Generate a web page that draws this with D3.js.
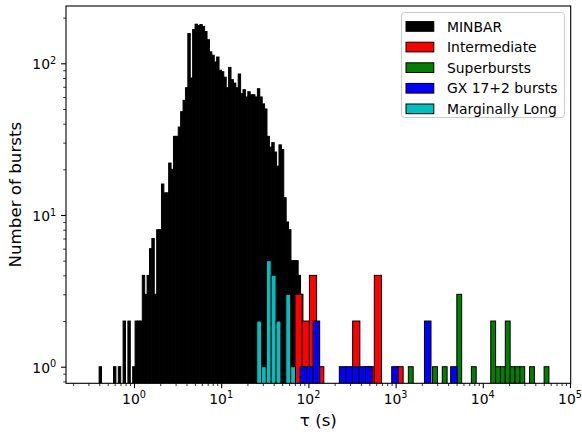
<!DOCTYPE html>
<html>
<head>
<meta charset="utf-8">
<script src="https://cdn.jsdelivr.net/npm/d3@7"></script>
<style>
  body { margin: 0; background: #fff; }
  svg { display: block; }
  text { font-family: "DejaVu Sans", sans-serif; fill: #000; }
</style>
</head>
<body>
<svg width="582" height="435"></svg>
<script>
  // histogram bins: log10 of first lower edge, bin width (dex), counts per bin
  const minbarStart = -0.40, minbarStep = 0.0275;
  const minbarCounts = [1, 0, 0, 0, 0, 0, 1, 0, 1, 0, 2, 0, 2, 0, 1, 2, 2, 2, 4, 3,
    4, 6, 7, 3, 8, 8, 16, 14, 14, 22, 20, 33, 33, 38, 48, 57, 69, 157, 80, 167,
    181, 177, 180, 175, 162, 143, 119, 113, 102, 110, 90, 88, 81, 69, 94, 78, 74, 69, 85, 63,
    67, 60, 65, 62, 62, 60, 68, 60, 54, 50, 33, 28, 30, 26, 21, 29, 27, 13, 9, 8,
    5, 5, 5, 4, 3];

  const interStart = 1.846, interStep = 0.0827;
  const interCounts = [3, 2, 4, 1, 0, 0, 0, 0, 2, 0, 1, 4, 0, 0, 1];

  const superStart = 3.146, superStep = 0.0556;
  const superCounts = [1, 0, 0, 0, 0, 1, 0, 1, 0, 0, 3, 0, 0, 1, 0, 0, 0, 2, 1, 1,
    2, 1, 1, 1, 0, 1, 0, 0, 1];

  const gxStart = 1.904, gxStep = 0.0751;
  const gxCounts = [1, 1, 2, 0, 0, 0, 1, 1, 1, 1, 1, 0, 0, 0, 1, 0, 0, 0, 0, 2,
    0, 0, 0, 1];

  const mlStart = 1.407, mlStep = 0.0556;
  const mlCounts = [2, 1, 5, 4, 2, 0, 3, 1];

  const seriesNames = ['MINBAR', 'Intermediate', 'Superbursts', 'GX 17+2 bursts', 'Marginally Long'];
  const seriesColors = ['#000000', '#ff0000', '#008000', '#0000ff', '#00bfbf'];

  const xMajor = [1, 10, 100, 1000, 10000, 100000];
  const xMajorExp = ['0', '1', '2', '3', '4', '5'];
  const yMajor = [1, 10, 100];
  const yMajorExp = ['0', '1', '2'];

  const svg = d3.select('svg');

  const plot = { left: 66, right: 570.7, top: 6, bottom: 383.3 };

  const xScale = d3.scaleLog()
    .domain([Math.pow(10, -0.7798), Math.pow(10, 5.008)])
    .range([plot.left, plot.right]);

  const yScale = d3.scaleLog()
    .domain([Math.pow(10, -0.1094), Math.pow(10, 2.3777)])
    .range([plot.bottom, plot.top]);

  svg.append('defs').append('clipPath').attr('id', 'clip')
    .append('rect')
    .attr('x', plot.left).attr('y', plot.top)
    .attr('width', plot.right - plot.left)
    .attr('height', plot.bottom - plot.top);

  const bins = (start, step, counts) => counts
    .map((c, i) => ({
      x0: Math.pow(10, start + i * step),
      x1: Math.pow(10, start + (i + 1) * step),
      c
    }))
    .filter(d => d.c > 0);

  const allSeries = [
    bins(minbarStart, minbarStep, minbarCounts),
    bins(interStart, interStep, interCounts),
    bins(superStart, superStep, superCounts),
    bins(gxStart, gxStep, gxCounts),
    bins(mlStart, mlStep, mlCounts)
  ];

  const barsG = svg.append('g').attr('clip-path', 'url(#clip)');

  allSeries.forEach((data, k) => {
    barsG.append('g')
      .selectAll('rect').data(data)
      .enter().append('rect')
      .attr('x', d => xScale(d.x0))
      .attr('width', d => xScale(d.x1) - xScale(d.x0))
      .attr('y', d => yScale(d.c))
      .attr('height', d => plot.bottom + 5 - yScale(d.c))
      .attr('fill', seriesColors[k])
      .attr('stroke', '#000')
      .attr('stroke-width', 1);
  });

  // minor tick values
  const xMinor = [];
  for (let e = -1; e <= 4; e++) {
    for (let j = 2; j <= 9; j++) {
      const v = j * Math.pow(10, e);
      if (v > xScale.domain()[0] && v < xScale.domain()[1]) xMinor.push(v);
    }
  }
  const yMinor = [];
  for (let e = -1; e <= 2; e++) {
    for (let j = 2; j <= 9; j++) {
      const v = j * Math.pow(10, e);
      if (v > yScale.domain()[0] && v < yScale.domain()[1]) yMinor.push(v);
    }
  }

  const styleAxis = (g, w) => {
    g.selectAll('.domain').remove();
    g.selectAll('.tick line').attr('stroke', '#000').attr('stroke-width', w);
  };

  svg.append('g')
    .attr('transform', `translate(0,${plot.bottom})`)
    .call(d3.axisBottom(xScale).tickValues(xMinor).tickSize(2.8).tickFormat(''))
    .call(g => styleAxis(g, 0.8));
  svg.append('g')
    .attr('transform', `translate(0,${plot.bottom})`)
    .call(d3.axisBottom(xScale).tickValues(xMajor).tickSize(4.9).tickFormat(''))
    .call(g => styleAxis(g, 1.1));

  svg.append('g')
    .attr('transform', `translate(${plot.left},0)`)
    .call(d3.axisLeft(yScale).tickValues(yMinor).tickSize(2.8).tickFormat(''))
    .call(g => styleAxis(g, 0.8));
  svg.append('g')
    .attr('transform', `translate(${plot.left},0)`)
    .call(d3.axisLeft(yScale).tickValues(yMajor).tickSize(4.9).tickFormat(''))
    .call(g => styleAxis(g, 1.1));

  // frame
  svg.append('rect')
    .attr('x', plot.left).attr('y', plot.top)
    .attr('width', plot.right - plot.left)
    .attr('height', plot.bottom - plot.top)
    .attr('fill', 'none')
    .attr('stroke', '#000')
    .attr('stroke-width', 1.1);

  // tick labels as 10^n
  const xl = svg.append('g').selectAll('text').data(xMajor)
    .enter().append('text')
    .attr('x', d => xScale(d))
    .attr('y', plot.bottom + 20.5)
    .attr('text-anchor', 'middle')
    .style('font-size', '13.9px');
  xl.append('tspan').text('10');
  xl.append('tspan').attr('dy', -5.5).style('font-size', '9.7px').text((d, i) => xMajorExp[i]);

  const yl = svg.append('g').selectAll('text').data(yMajor)
    .enter().append('text')
    .attr('x', plot.left - 9.8)
    .attr('y', d => yScale(d) + 6)
    .attr('text-anchor', 'end')
    .style('font-size', '13.9px');
  yl.append('tspan').text('10');
  yl.append('tspan').attr('dy', -5.5).style('font-size', '9.7px').text((d, i) => yMajorExp[i]);

  // axis labels
  svg.append('text')
    .attr('x', (plot.left + plot.right) / 2)
    .attr('y', 426)
    .attr('text-anchor', 'middle')
    .style('font-size', '16.7px')
    .text('τ (s)');

  svg.append('text')
    .attr('transform', `translate(21,${(plot.top + plot.bottom) / 2}) rotate(-90)`)
    .attr('text-anchor', 'middle')
    .style('font-size', '16.7px')
    .text('Number of bursts');

  // legend
  const lg = svg.append('g');
  lg.append('rect')
    .attr('x', 401.5).attr('y', 12.5)
    .attr('width', 163).attr('height', 105)
    .attr('rx', 3)
    .attr('fill', 'rgba(255,255,255,0.8)')
    .attr('stroke', '#cccccc')
    .attr('stroke-width', 1);

  const item = lg.selectAll('g.item').data(seriesNames)
    .enter().append('g')
    .attr('class', 'item')
    .attr('transform', (d, i) => `translate(406,${26.5 + i * 20.6})`);
  item.append('rect')
    .attr('x', 0).attr('y', -4.9)
    .attr('width', 27.8).attr('height', 9.7)
    .attr('fill', (d, i) => seriesColors[i])
    .attr('stroke', '#000')
    .attr('stroke-width', 1);
  item.append('text')
    .attr('x', 41)
    .attr('y', 5)
    .style('font-size', '13.9px')
    .text(d => d);
</script>
</body>
</html>
